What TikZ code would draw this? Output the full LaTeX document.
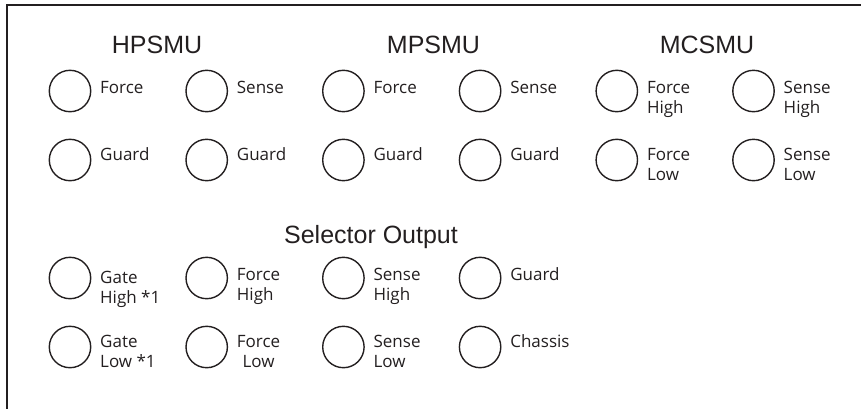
\documentclass[tikz,border=0pt]{standalone}
\usepackage{fontspec}
\setmainfont{Open Sans}
\newfontfamily\headfont{Liberation Sans}
\usetikzlibrary{calc, positioning}
\definecolor{ink}{HTML}{231F20}

\begin{document}
\begin{tikzpicture}[x=1pt, y=-1pt]
    \def\colStep{136.7}
    \def\rad{20.7pt}
    \def\rowY{{0,91,160,278,347}}

    \tikzstyle{jack} = [draw=ink, line width=1.4pt, circle, minimum size=2*\rad, inner sep=0pt]
    \tikzstyle{tag} = [text=ink, font=\fontsize{17}{20}\selectfont, anchor=base west, inner sep=0pt]
    \tikzstyle{tagl} = [tag, align=left]
    \tikzstyle{tagc} = [tag, align=center]
    \tikzstyle{head} = [text=ink, font=\headfont\fontsize{25}{30}\selectfont, anchor=base, inner sep=0pt]

    \useasboundingbox (0,0) rectangle (861,408);

    % panel edge, only top and left show
    \coordinate (p-bl) at (7,410);
    \coordinate (p-tl) at (7,5);
    \coordinate (p-tr) at (863,5);
    \draw [ink, line width=2pt] (p-bl) -- (p-tl) -- (p-tr);

    % group titles
    \node (h-hp) [head] at (157,53) {HPSMU};
    \node (h-mp) [head] at (433.5,53) {MPSMU};
    \node (h-mc) [head] at (707,53) {MCSMU};
    \node (h-sel) [head] at (371,243) {Selector Output};

    % jacks with their labels (dy is to the last baseline)
    \foreach \r/\c/\dy/\st/\txt in {
        1/1/2/tagl/Force, 1/2/2/tagl/Sense, 1/3/2/tagl/Force, 1/4/2/tagl/Sense,
        1/5/22/tagl/{Force\\High}, 1/6/22/tagl/{Sense\\High},
        2/1/0/tagl/Guard, 2/2/0/tagl/Guard, 2/3/0/tagl/Guard, 2/4/0/tagl/Guard,
        2/5/20/tagl/{Force\\Low}, 2/6/20/tagl/{Sense\\Low},
        3/1/25/tagl/{Gate\\High *1}, 3/2/22/tagl/{Force\\High}, 3/3/22/tagl/{Sense\\High}, 3/4/2/tagl/Guard,
        4/1/20/tagl/{Gate\\Low *1}, 4/2/20/tagc/{Force\\Low}, 4/3/20/tagl/{Sense\\Low}, 4/4/0/tagl/Chassis} {
        \pgfmathsetmacro{\jx}{70 + (\c - 1)*\colStep}
        \pgfmathsetmacro{\jy}{\rowY[\r]}
        \node (j-\r-\c) [jack] at (\jx, \jy) {};
        \node (t-\r-\c) [\st] at ($(j-\r-\c.center) + (30, \dy)$) {\txt};
    }
\end{tikzpicture}
\end{document}
